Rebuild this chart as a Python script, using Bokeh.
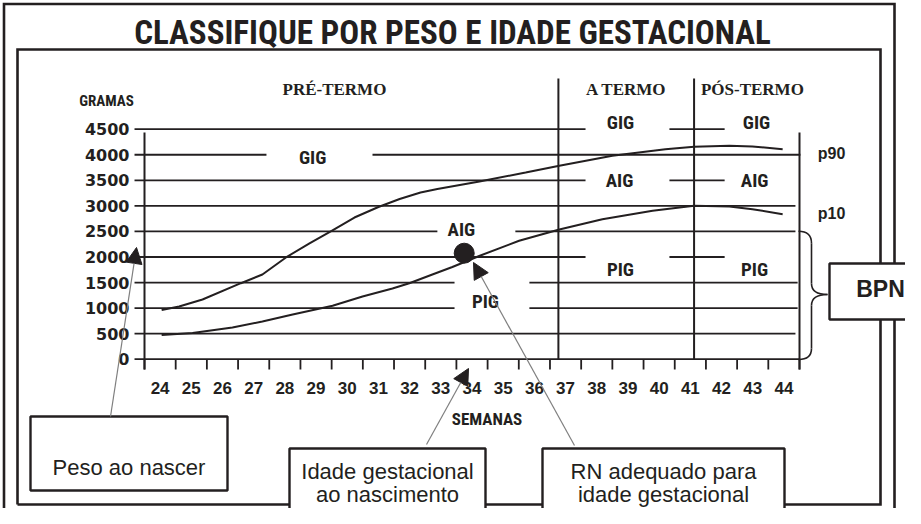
from bokeh.plotting import figure
from bokeh.models import Range1d, Arrow, NormalHead
from bokeh.core.properties import value
from bokeh.embed import file_html
from bokeh.resources import INLINE

# ---------------- data ----------------
weeks = list(range(24, 45))
gram_ticks = [0, 500, 1000, 1500, 2000, 2500, 3000, 3500, 4000, 4500]

p90_weeks = [24.05, 24.61, 25.36, 26.59, 27.28, 28.08, 28.79, 29.50, 30.23, 31.00, 31.68,
             32.35, 32.89, 34.24, 35.72, 36.80, 38.50, 40.20, 41.12, 42.25, 42.99, 43.96]
p90_grams = [963, 1031, 1168, 1487, 1657, 2009, 2264, 2512, 2772, 2978, 3134,
             3261, 3330, 3477, 3653, 3784, 3980, 4109, 4156, 4175, 4161, 4109]

p10_weeks = [24.05, 25.04, 26.32, 27.28, 28.25, 29.53, 30.49, 31.45, 31.99, 32.73, 33.37,
             34.23, 35.51, 36.80, 38.18, 39.79, 41.12, 42.25, 42.99, 43.96]
p10_grams = [473, 513, 620, 738, 875, 1045, 1227, 1383, 1487, 1657, 1804,
             2019, 2317, 2538, 2739, 2903, 3001, 2988, 2935, 2837]

term_bounds = [36.77, 41.12]
periods = ["PRÉ-TERMO", "A TERMO", "PÓS-TERMO"]
period_weeks = [29.59, 38.95, 42.99]

zone_labels = ["GIG", "AIG", "PIG", "GIG", "AIG", "PIG", "GIG", "AIG", "PIG"]
zone_weeks = [28.89, 33.66, 34.43, 38.76, 38.73, 38.76, 43.12, 43.06, 43.06]
zone_grams = [3946, 2547, 1129, 4631, 3487, 1755, 4631, 3487, 1755]

# reference lines: level, start week, end week
ref_levels = [4500, 4500, 4000, 4000, 3500, 3500, 3000, 2500, 2500, 2000, 2000,
              1500, 1500, 1000, 1000, 500, 0]
ref_start = [23.18, 40.33, 23.18, 30.81, 23.18, 40.33, 23.18, 23.18, 35.39, 23.18, 40.33,
             23.18, 35.84, 23.18, 35.84, 23.18, 23.18]
ref_end = [37.64, 42.10, 27.41, 44.53, 37.64, 42.10, 44.37, 32.89, 44.37, 37.64, 42.10,
           33.44, 44.44, 33.44, 44.44, 44.37, 44.50]

dot_week = [33.75]
dot_grams = [2074]

pct_labels = ["p90", "p10"]
pct_grams = [4025, 2860]

title = "CLASSIFIQUE POR PESO E IDADE GESTACIONAL"

# ---------------- layout helpers (reference pixels -> data) ----------------
PX_WEEK = 655 / 21
PX_500G = 230 / 9


def X(px):
    return 23.5 + (px - 152) / PX_WEEK


def Y(py):
    return (366.7 - py) * 500 / PX_500G


INK = "#231f20"
SANS = value("Liberation Sans")
SERIF = value("Liberation Serif")
COND = value("Roboto Condensed")

p = figure(width=905, height=508, x_range=Range1d(X(8), X(913)), y_range=Range1d(Y(516), Y(8)),
           output_backend="svg", toolbar_location=None, min_border=0,
           x_axis_type=None, y_axis_type=None, outline_line_color=None,
           background_fill_color="white", border_fill_color="white")


def poly(pts, w=2.5, color=INK):
    p.line([X(a) for a, b in pts], [Y(b) for a, b in pts], line_color=color,
           line_width=w, line_join="miter")


# frames
poly([(11.5, 530), (11.5, 11.5), (902, 11.5), (902, 530)], 2.6)
poly([(25, 512), (25, 57), (888, 57), (888, 512), (25, 512)], 2.6)

# reference lines
p.segment(x0=ref_start, y0=ref_levels, x1=ref_end, y1=ref_levels, line_color=INK, line_width=1.8)

# axes
edges = [w - 0.5 for w in weeks] + [weeks[-1] + 0.5]
p.segment(x0=[edges[0], edges[-1]], y0=[Y(140)] * 2, x1=[edges[0], edges[-1]], y1=[Y(377)] * 2,
          line_color=INK, line_width=2)
p.segment(x0=edges, y0=[0] * len(edges), x1=edges, y1=[Y(377)] * len(edges),
          line_color=INK, line_width=1.8)
p.segment(x0=term_bounds, y0=[Y(86)] * 2, x1=term_bounds, y1=[0] * 2, line_color=INK, line_width=2)

# curves
p.line(p90_weeks, p90_grams, line_color=INK, line_width=2)
p.line(p10_weeks, p10_grams, line_color=INK, line_width=2)
p.scatter(dot_week, dot_grams, size=20, color=INK)

# brace
p.quadratic(x0=[X(806), X(819), X(835), X(819)], y0=[Y(238.7), Y(291), Y(302), Y(356)],
            x1=[X(819), X(835), X(819), X(806)], y1=[Y(250.7), Y(302), Y(313), Y(367)],
            cx=[X(819), X(819), X(819), X(819)], cy=[Y(238.7), Y(302), Y(302), Y(367)],
            line_color=INK, line_width=1.6)
p.segment(x0=[X(819)] * 2, y0=[Y(250.7), Y(313)], x1=[X(819)] * 2, y1=[Y(291), Y(356)],
          line_color=INK, line_width=1.6)

# boxes
bl = [38, 297, 550, 837]
br = [235, 493, 792, 925]
bt = [424, 456, 456, 271]
bb = [498, 540, 540, 327]
p.quad(left=[X(v) for v in bl], right=[X(v) for v in br], top=[Y(v) for v in bt],
       bottom=[Y(v) for v in bb], fill_color="white", line_color=INK, line_width=2.4)

# arrows
for (xs, ys, xe, ye) in [(118, 424, 144, 255), (434, 452, 476, 376), (582, 453, 481, 270)]:
    p.add_layout(Arrow(end=NormalHead(size=16, fill_color=INK, line_color=INK, line_width=1),
                       x_start=X(xs), y_start=Y(ys), x_end=X(xe), y_end=Y(ye),
                       line_color="#7f7f7f", line_width=1.2))

# texts
p.text(x=[X(460)], y=[Y(40)], text=[title], text_font=COND, text_font_style="bold",
       text_font_size="33px", text_align="center", text_baseline="middle", text_color=INK)
p.text(x=[X(137)] * len(gram_ticks), y=gram_ticks, text=[str(g) for g in gram_ticks],
       text_font=value("DejaVu Sans"), text_font_style="bold", text_font_size="16px",
       text_align="right", text_baseline="middle", text_color=INK)
p.text(x=weeks, y=[Y(395)] * len(weeks), text=[str(w) for w in weeks], text_font=SANS,
       text_font_style="bold", text_font_size="17px", text_align="center",
       text_baseline="middle", text_color=INK)
p.text(x=[X(114)], y=[Y(108)], text=["GRAMAS"], text_font=COND, text_font_style="bold",
       text_font_size="15px", text_align="center", text_baseline="middle", text_color=INK)
p.text(x=[X(494.5)], y=[Y(426)], text=["SEMANAS"], text_font=COND, text_font_style="bold",
       text_font_size="17px", text_align="center", text_baseline="middle", text_color=INK)
p.text(x=period_weeks, y=[Y(97)] * 3, text=periods, text_font=SERIF, text_font_style="bold",
       text_font_size="17px", text_align="center", text_baseline="middle", text_color=INK)
p.text(x=zone_weeks, y=zone_grams, text=zone_labels, text_font=COND, text_font_style="bold",
       text_font_size="19px", text_align="center", text_baseline="middle", text_color=INK)
p.text(x=[X(839)] * 2, y=pct_grams, text=pct_labels, text_font=SANS, text_font_style="bold",
       text_font_size="16px", text_align="center", text_baseline="middle", text_color=INK)
p.text(x=[X(888)], y=[Y(296)], text=["BPN"], text_font=SANS, text_font_style="bold",
       text_font_size="23px", text_align="center", text_baseline="middle", text_color=INK)
p.text(x=[X(136.5), X(395), X(395), X(671), X(671)],
       y=[Y(475), Y(479), Y(502), Y(479), Y(502)],
       text=["Peso ao nascer", "Idade gestacional", "ao nascimento", "RN adequado para",
             "idade gestacional"],
       text_font=SANS, text_font_size="22px", text_align="center", text_baseline="alphabetic",
       text_color=INK)

open("out.html", "w").write(file_html(p, INLINE))
